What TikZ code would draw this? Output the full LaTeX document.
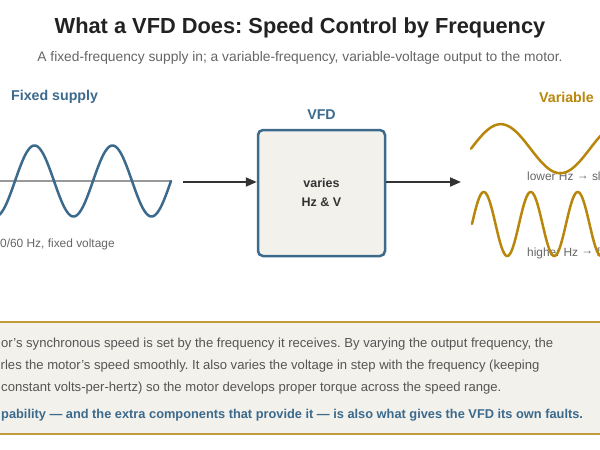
\documentclass[tikz,border=0pt]{standalone}
\usepackage{fontspec}
\setmainfont{Liberation Sans}
\frenchspacing
\usetikzlibrary{arrows.meta}
\definecolor{vblue}{HTML}{3B6A8D}
\definecolor{vgold}{HTML}{B8860B}
\definecolor{panelgold}{HTML}{C29A3A}
\definecolor{pfill}{HTML}{F3F1EC}
\definecolor{dark}{HTML}{333333}
\definecolor{ttl}{HTML}{222222}
\definecolor{gtext}{HTML}{666666}
\definecolor{btext}{HTML}{555555}
\definecolor{axisc}{HTML}{999999}
\newcommand{\hzarrow}{\raisebox{1.2pt}{→}}
\tikzset{
  ttlstyle/.style={font=\fontsize{21.8}{26}\selectfont\bfseries, text=ttl, inner sep=0pt},
  substyle/.style={font=\fontsize{13.8}{16}\selectfont, text=gtext, inner sep=0pt},
  headlbl/.style={font=\fontsize{14.2}{17}\selectfont\bfseries, inner sep=0pt},
  smalllbl/.style={font=\fontsize{11.9}{14}\selectfont, text=gtext, inner sep=0pt, anchor=west},
  boxtxt/.style={font=\fontsize{12.5}{15}\selectfont\bfseries, text=dark, inner sep=0pt},
  vfdbox/.style={draw=vblue, fill=pfill, line width=2.5pt, rounded corners=5pt, minimum width=127pt, minimum height=126pt, inner sep=0pt},
  flow/.style={draw=dark, line width=2pt, -{Triangle[length=11pt,width=9pt]}},
  wave/.style={line width=2.5pt, line cap=round, line join=round},
  panelline/.style={draw=panelgold, line width=2pt},
  bodytxt/.style={font=\fontsize{13.1}{15}\selectfont, text=btext, inner sep=0pt, anchor=west},
  boldtxt/.style={font=\fontsize{12.8}{15}\selectfont\bfseries, text=vblue, inner sep=0pt, anchor=west}
}
\begin{document}
\begin{tikzpicture}[x=1pt,y=-1pt]
\useasboundingbox (0,0) rectangle (600,450);
\clip (0,0) rectangle (600,450);
\fill[white] (0,0) rectangle (600,450);

% titles
\node[ttlstyle] (title) at (300,28) {What a VFD Does: Speed Control by Frequency};
\node[substyle] (sub) at (300,58) {A fixed-frequency supply in; a variable-frequency, variable-voltage output to the motor.};

% left: fixed supply
\node[headlbl, text=vblue, anchor=west] (fixed) at (11,97) {Fixed supply};
\coordinate (ax0) at (0,181);
\coordinate (ax1) at (172,181);
\draw[axisc, line width=1.2pt] (ax0) -- (ax1);
\draw[wave, vblue] plot[domain=-63:171, samples=240] (\x, {181 - 35.5*sin(4.61538*(\x-171))});
\node[smalllbl] (fixlbl) at (0,244) {0/60 Hz, fixed voltage};

% VFD
\node[vfdbox] (vfd) at (321.5,193) {};
\node[headlbl, text=vblue] (vfdlbl) at (321.5,115) {VFD};
\node[boxtxt] (v1) at (321.5,183) {varies};
\node[boxtxt] (v2) at (321.5,202) {Hz \& V};

% arrows
\coordinate (a1s) at (183,182);
\coordinate (a2e) at (461,182);
\draw[flow] (a1s) -- (vfd.west |- a1s);
\draw[flow] (vfd.east |- a2e) -- (a2e);

% right: variable output
\node[headlbl, text=vgold, anchor=west] (varlbl) at (539,97) {Variable};
\node[smalllbl] (lowlbl) at (527,176) {lower Hz \hzarrow{} sl};
\node[smalllbl] (highlbl) at (527,253) {higher Hz \hzarrow{} f};
\draw[wave, vgold] plot[domain=471:612, samples=200] (\x, {148.7 - 24.5*sin(3.02521*(\x-471))});
\draw[wave, vgold] plot[domain=472:612, samples=300] (\x, {224 - 32*sin(7.65957*(\x-472))});

% bottom panel
\fill[pfill] (-10,321.5) rectangle (610,433.5);
\coordinate (pl0) at (0,321.5);
\coordinate (pl1) at (600,321.5);
\coordinate (pl2) at (0,433.5);
\coordinate (pl3) at (600,433.5);
\draw[panelline] (pl0) -- (pl1);
\draw[panelline] (pl2) -- (pl3);
\node[bodytxt] (b1) at (1,344) {or's synchronous speed is set by the frequency it receives. By varying the output frequency, the};
\node[bodytxt] (b2) at (0.5,366) {rles the motor's speed smoothly. It also varies the voltage in step with the frequency (keeping};
\node[bodytxt] (b3) at (1,388) {constant volts-per-hertz) so the motor develops proper torque across the speed range.};
\node[boldtxt] (b4) at (1,415) {pability — and the extra components that provide it — is also what gives the VFD its own faults.};
\end{tikzpicture}
\end{document}
